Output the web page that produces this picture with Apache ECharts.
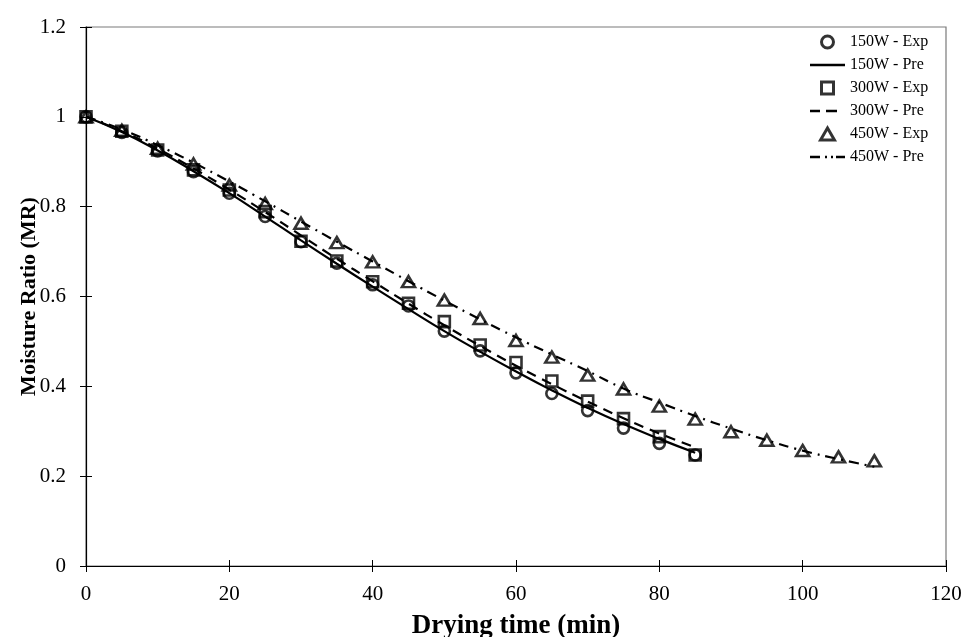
<!DOCTYPE html>
<html>
<head>
<meta charset="utf-8">
<script src="https://cdn.jsdelivr.net/npm/echarts@6/dist/echarts.min.js"></script>
<style>html,body{margin:0;padding:0;background:#fff}#c{width:968px;height:637px}</style>
</head>
<body>
<div id="c"></div>
<script>
// Drying time (min)
const timeExp150 = [0,5,10,15,20,25,30,35,40,45,50,55,60,65,70,75,80,85];
const timeExp300 = [0,5,10,15,20,25,30,35,40,45,50,55,60,65,70,75,80,85];
const timeExp450 = [0,5,10,15,20,25,30,35,40,45,50,55,60,65,70,75,80,85,90,95,100,105,110];

const mrExp150 = [1.0,0.965,0.924,0.878,0.83,0.778,0.722,0.674,0.626,0.579,0.523,0.479,0.43,0.384,0.346,0.307,0.273,0.247];
const mrPre150 = [1.0,0.966,0.925,0.879,0.83,0.778,0.725,0.673,0.622,0.572,0.523,0.477,0.433,0.391,0.352,0.316,0.283,0.252];

const mrExp300 = [1.0,0.968,0.926,0.882,0.837,0.789,0.723,0.679,0.633,0.585,0.544,0.492,0.453,0.412,0.367,0.328,0.288,0.247];
const mrPre300 = [1.0,0.968,0.929,0.885,0.838,0.788,0.736,0.684,0.634,0.584,0.536,0.49,0.446,0.405,0.366,0.329,0.295,0.264];

const mrExp450 = [1.0,0.97,0.93,0.895,0.848,0.807,0.763,0.72,0.677,0.633,0.592,0.551,0.502,0.465,0.425,0.394,0.356,0.327,0.299,0.28,0.257,0.243,0.234];
const mrPre450 = [1.0,0.972,0.937,0.898,0.856,0.812,0.767,0.722,0.678,0.634,0.591,0.549,0.509,0.471,0.434,0.395,0.364,0.334,0.306,0.28,0.257,0.238,0.221];

const seriesNames = ['150W - Exp','150W - Pre','300W - Exp','300W - Pre','450W - Exp','450W - Pre'];

const xTicks = {min:0, max:120, interval:20};
const yTicks = {min:0, max:1.2, interval:0.2};

function pairs(xs, ys){ return xs.map((x,i)=>[x, ys[i]]); }

const FONT = 'Liberation Serif';
const hollow = {color:'rgba(0,0,0,0)', borderColor:'#000', borderWidth:2.6};
const legendHollow = {color:'rgba(0,0,0,0)', borderColor:'#000', borderWidth:3};
const lineIcon = {color:'#000', borderWidth:0};

const legendData = [
  {name:seriesNames[0], icon:'circle', itemStyle:legendHollow},
  {name:seriesNames[1], icon:'path://M0,0H35V2.4H0Z', itemStyle:lineIcon},
  {name:seriesNames[2], icon:'path://M0,0H10V10H0Z', itemStyle:legendHollow},
  {name:seriesNames[3], icon:'path://M0,0H10V2.4H0Z M16,0H27V2.4H16Z M35,0V2.4Z', itemStyle:lineIcon},
  {name:seriesNames[4], icon:'path://M5.5,0L11,9.5L0,9.5Z', itemStyle:legendHollow},
  {name:seriesNames[5], icon:'path://M0,0H10V2.4H0Z M15,0H17V2.4H15Z M21,0H23V2.4H21Z M26,0H35V2.4H26Z', itemStyle:lineIcon}
];

const chart = echarts.init(document.getElementById('c'), null, {renderer:'canvas'});
chart.setOption({
  backgroundColor:'#fff',
  animation:false,
  textStyle:{fontFamily:FONT},
  grid:{left:86, right:22, top:27, bottom:71, outerBoundsMode:'none', containLabel:false,
        show:true, borderColor:'#7a7a7a', borderWidth:1.2},
  legend:{
    data:legendData,
    orient:'vertical',
    left:805, top:29,
    itemWidth:35, itemHeight:12, itemGap:7,
    symbolKeepAspect:true,
    textStyle:{fontFamily:FONT, fontSize:16, color:'#000'},
    selectedMode:false
  },
  xAxis:[{
    type:'value', min:xTicks.min, max:xTicks.max, interval:xTicks.interval,
    name:'Drying time (min)', nameLocation:'middle', nameGap:47, nameMoveOverlap:false,
    nameTextStyle:{fontFamily:FONT, fontSize:27, fontWeight:'bold', color:'#000'},
    axisLine:{show:true, lineStyle:{color:'#000', width:1.2}},
    axisTick:{show:true, length:6, lineStyle:{color:'#000', width:1}},
    axisLabel:{fontFamily:FONT, fontSize:21, color:'#000', margin:18},
    splitLine:{show:false}
  },{
    type:'value', position:'bottom', min:xTicks.min, max:xTicks.max, interval:xTicks.interval,
    axisLine:{show:false},
    axisTick:{show:true, inside:true, length:6, lineStyle:{color:'#000', width:1}},
    axisLabel:{show:false}, splitLine:{show:false}
  }],
  yAxis:[{
    type:'value', min:yTicks.min, max:yTicks.max, interval:yTicks.interval,
    name:'Moisture Ratio (MR)', nameLocation:'middle', nameGap:46, nameMoveOverlap:false,
    nameTextStyle:{fontFamily:FONT, fontSize:22, fontWeight:'bold', color:'#000'},
    axisLine:{show:true, lineStyle:{color:'#000', width:1.2}},
    axisTick:{show:true, length:6, lineStyle:{color:'#000', width:1}},
    axisLabel:{fontFamily:FONT, fontSize:21, color:'#000', margin:20},
    splitLine:{show:false}
  },{
    type:'value', position:'left', min:yTicks.min, max:yTicks.max, interval:yTicks.interval,
    axisLine:{show:false},
    axisTick:{show:true, inside:true, length:6, lineStyle:{color:'#000', width:1}},
    axisLabel:{show:false}, splitLine:{show:false}
  }],
  series:[
    {name:seriesNames[0], type:'scatter', symbol:'circle', symbolSize:11, itemStyle:hollow, data:pairs(timeExp150, mrExp150), z:5},
    {name:seriesNames[1], type:'line', smooth:true, showSymbol:false, symbol:'none', lineStyle:{color:'#000', width:2.2, type:'solid'}, itemStyle:{color:'#000'}, data:pairs(timeExp150, mrPre150)},
    {name:seriesNames[2], type:'scatter', symbol:'rect', symbolSize:11, itemStyle:hollow, data:pairs(timeExp300, mrExp300), z:5},
    {name:seriesNames[3], type:'line', smooth:true, showSymbol:false, symbol:'none', lineStyle:{color:'#000', width:2.2, type:[10,7]}, itemStyle:{color:'#000'}, data:pairs(timeExp300, mrPre300)},
    {name:seriesNames[4], type:'scatter', symbol:'triangle', symbolSize:[13,11], itemStyle:hollow, data:pairs(timeExp450, mrExp450), z:5},
    {name:seriesNames[5], type:'line', smooth:true, showSymbol:false, symbol:'none', lineStyle:{color:'#000', width:2.2, type:[10,6,2,6]}, itemStyle:{color:'#000'}, data:pairs(timeExp450, mrPre450)}
  ]
});
</script>
</body>
</html>
